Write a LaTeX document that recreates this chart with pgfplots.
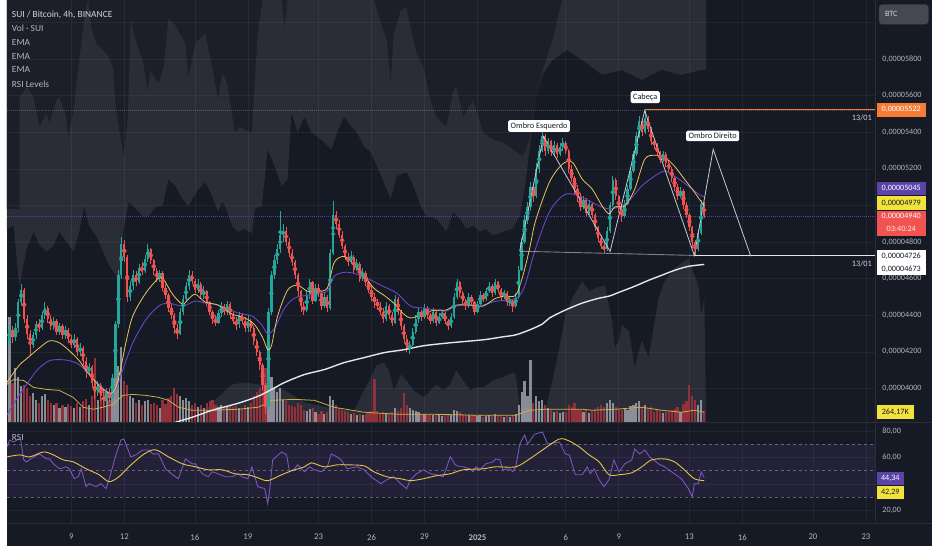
\documentclass[border=0pt]{standalone}
\usepackage{fontspec}
\setmainfont{Carlito}
\usepackage{pgfplots}
\usepackage{pgfplotstable}
\pgfplotsset{compat=1.18}
\definecolor{bg}{HTML}{161A25}
\definecolor{cA}{HTML}{1C1F2A}
\definecolor{cB}{HTML}{2A2D38}
\definecolor{upc}{HTML}{26A69A}
\definecolor{dnc}{HTML}{EF5350}
\definecolor{volup}{HTML}{9EA1A8}
\definecolor{voldn}{HTML}{93313A}
\definecolor{emay}{HTML}{E9C85A}
\definecolor{emap}{HTML}{6B45C8}
\definecolor{emaw}{HTML}{E6E6E6}
\definecolor{volma}{HTML}{C9AE4A}
\definecolor{rsip}{HTML}{7E57C2}
\definecolor{rsiy}{HTML}{E6C34B}
\definecolor{lbl}{HTML}{B2B5BE}
\definecolor{ttl}{HTML}{D1D4DC}
\definecolor{sep}{HTML}{2A2E39}
\definecolor{orng}{HTML}{F57C35}
\definecolor{pbox}{HTML}{5B43A8}
\definecolor{ybox}{HTML}{F2E33C}
\definecolor{rbox}{HTML}{F05350}
\definecolor{patt}{HTML}{C8CBD2}

\pgfplotstableread{
o h l c v
4260 4350 4240 4320 2800
4320 4340 4250 4280 1050
4280 4360 4260 4330 1450
4330 4490 4310 4470 1200
4470 4570 4450 4540 950
4540 4550 4360 4380 1000
4380 4400 4270 4300 900
4300 4320 4180 4240 700
4240 4310 4220 4290 780
4290 4370 4270 4350 600
4350 4380 4310 4330 520
4330 4420 4320 4400 700
4400 4470 4380 4440 760
4440 4450 4360 4380 600
4380 4400 4320 4340 520
4340 4390 4320 4370 450
4370 4380 4290 4310 500
4310 4360 4290 4340 380
4340 4350 4270 4290 450
4290 4340 4270 4320 400
4320 4330 4250 4270 480
4270 4290 4220 4240 420
4240 4300 4220 4270 380
4270 4280 4180 4200 520
4200 4250 4180 4220 400
4220 4230 4130 4150 560
4150 4170 4060 4090 620
4090 4140 4070 4120 450
4120 4130 4000 4030 700
4030 4050 3940 3980 1700
3980 4040 3960 4020 600
4020 4030 3930 3960 650
3960 3990 3900 3930 800
3930 4000 3910 3980 550
3980 4000 3920 3950 600
3950 4080 3940 4060 900
4060 4370 4050 4350 1300
4350 4650 4330 4620 1500
4620 4830 4600 4790 2000
4790 4810 4690 4720 1100
4720 4730 4470 4500 1000
4500 4590 4480 4560 700
4560 4650 4540 4620 650
4620 4640 4560 4580 500
4580 4680 4570 4660 600
4660 4690 4620 4640 450
4640 4730 4630 4710 550
4710 4790 4690 4760 600
4760 4770 4680 4700 480
4700 4710 4620 4640 520
4640 4660 4580 4600 450
4600 4650 4580 4630 380
4630 4640 4530 4550 600
4550 4570 4490 4510 480
4510 4520 4420 4440 650
4440 4460 4380 4400 700
4400 4410 4300 4330 900
4330 4350 4270 4300 750
4300 4440 4290 4420 700
4420 4510 4400 4490 600
4490 4580 4470 4560 650
4560 4650 4540 4620 550
4620 4640 4570 4590 450
4590 4600 4520 4540 500
4540 4600 4520 4570 400
4570 4580 4490 4510 450
4510 4560 4490 4530 380
4530 4540 4450 4470 500
4470 4480 4400 4420 550
4420 4430 4350 4380 600
4380 4400 4340 4360 450
4360 4430 4350 4410 400
4410 4470 4390 4450 450
4450 4460 4400 4420 380
4420 4480 4400 4460 420
4460 4470 4380 4400 450
4400 4420 4350 4370 400
4370 4390 4320 4350 420
4350 4420 4330 4400 380
4400 4410 4350 4370 350
4370 4390 4310 4330 450
4330 4400 4310 4370 400
4370 4380 4310 4330 500
4330 4340 4240 4260 700
4260 4270 4180 4200 800
4200 4210 4100 4130 900
4130 4140 3990 4020 1300
4020 4030 3860 3900 1450
3900 4440 3890 4420 1600
4420 4640 4400 4620 1200
4620 4730 4600 4700 900
4700 4790 4680 4760 800
4760 4970 4740 4840 900
4840 4900 4800 4860 600
4860 4880 4780 4800 550
4800 4820 4720 4740 450
4740 4760 4670 4690 420
4690 4700 4600 4620 400
4620 4630 4500 4530 500
4530 4540 4420 4450 450
4450 4470 4400 4430 330
4430 4530 4420 4510 300
4510 4600 4490 4580 350
4580 4590 4460 4480 380
4480 4570 4470 4550 260
4550 4570 4500 4520 220
4520 4530 4430 4450 300
4450 4520 4440 4500 220
4500 4510 4420 4440 260
4440 4760 4430 4740 700
4740 5025 4730 4950 600
4950 4970 4870 4900 450
4900 4920 4820 4840 380
4840 4860 4760 4780 330
4780 4790 4700 4720 300
4720 4740 4670 4690 280
4690 4750 4680 4720 220
4720 4730 4630 4650 250
4650 4710 4640 4680 200
4680 4690 4580 4600 230
4600 4660 4590 4630 200
4630 4640 4560 4580 220
4580 4590 4520 4540 250
4540 4560 4480 4500 300
4500 4520 4440 4470 1150
4470 4490 4430 4450 300
4450 4470 4400 4420 250
4420 4440 4360 4380 280
4380 4470 4370 4450 220
4450 4460 4380 4400 240
4400 4420 4340 4360 260
4360 4510 4350 4490 380
4490 4500 4400 4420 300
4420 4430 4320 4340 380
4340 4350 4250 4270 780
4270 4290 4200 4220 450
4220 4260 4190 4240 380
4240 4330 4230 4310 330
4310 4400 4300 4380 300
4380 4440 4360 4420 260
4420 4430 4370 4390 220
4390 4460 4380 4440 220
4440 4450 4380 4400 200
4400 4410 4350 4370 220
4370 4440 4360 4420 180
4420 4430 4340 4360 220
4360 4410 4350 4390 180
4390 4430 4380 4410 160
4410 4420 4350 4370 190
4370 4380 4320 4340 220
4340 4410 4330 4390 200
4390 4520 4380 4500 330
4500 4600 4490 4580 300
4580 4590 4500 4520 260
4520 4530 4460 4480 220
4480 4490 4430 4450 200
4450 4520 4440 4500 180
4500 4510 4450 4470 170
4470 4480 4400 4420 190
4420 4480 4410 4460 160
4460 4530 4450 4510 180
4510 4520 4470 4490 150
4490 4550 4480 4530 170
4530 4580 4520 4560 190
4560 4570 4500 4520 160
4520 4600 4510 4580 220
4580 4590 4520 4540 180
4540 4550 4480 4500 170
4500 4540 4490 4520 150
4520 4530 4450 4470 170
4470 4500 4450 4480 150
4480 4490 4420 4450 180
4450 4520 4440 4500 220
4500 4670 4490 4650 450
4650 4820 4640 4800 800
4800 4950 4790 4920 1100
4920 5020 4900 4990 700
4990 5130 4970 5100 1650
5100 5120 5020 5050 500
5050 5230 5040 5200 700
5200 5330 5180 5300 550
5300 5420 5290 5380 600
5380 5390 5270 5300 450
5300 5370 5280 5350 380
5350 5360 5270 5290 330
5290 5350 5270 5330 280
5330 5340 5260 5280 300
5280 5340 5270 5320 240
5320 5370 5300 5340 260
5340 5350 5280 5300 280
5300 5310 5180 5200 450
5200 5220 5130 5150 400
5150 5160 5060 5090 500
5090 5110 5020 5050 360
5050 5070 4970 4990 330
4990 5050 4980 5030 280
5030 5040 4940 4960 330
4960 5030 4950 5010 240
5010 5020 4930 4950 300
4950 4960 4860 4880 360
4880 4890 4800 4820 400
4820 4840 4760 4780 450
4780 4800 4740 4760 400
4760 4880 4750 4860 500
4860 5020 4850 5000 580
5000 5160 4990 5140 520
5140 5150 5030 5050 400
5050 5060 4960 4980 360
4980 5000 4910 4940 330
4940 5030 4930 5010 360
5010 5110 5000 5090 330
5090 5210 5080 5190 420
5190 5300 5180 5280 450
5280 5400 5270 5380 500
5380 5490 5370 5460 550
5460 5470 5380 5400 400
5400 5522 5390 5480 450
5480 5490 5400 5420 360
5420 5430 5330 5350 400
5350 5370 5310 5330 280
5330 5340 5270 5290 320
5290 5300 5230 5250 300
5250 5300 5240 5280 240
5280 5290 5210 5230 280
5230 5250 5180 5200 300
5200 5210 5130 5150 330
5150 5160 5080 5100 360
5100 5120 5030 5050 400
5050 5100 5040 5080 280
5080 5090 4980 5000 480
5000 5020 4930 4950 550
4950 4960 4860 4880 1000
4880 4890 4770 4800 700
4800 4810 4726 4760 600
4760 4870 4750 4850 450
4850 5030 4840 5010 600
5010 5020 4930 4940 300
}\candles

\pgfplotstableread{
px py
0 -2
0 230
7 227
12 283
13 287
20 250
27 233
33 247
40 253
47 247
53 233
60 243
67 253
73 233
78 207
83 227
90 237
97 253
103 267
110 277
115 280
117 233
123 203
130 210
137 217
143 217
150 208
157 207
163 180
170 187
177 200
183 207
193 190
200 183
207 197
213 213
217 203
220 207
227 227
233 233
240 230
247 235
250 210
257 207
263 150
270 167
277 187
283 180
287 113
293 133
300 117
307 133
313 137
320 143
327 150
333 133
340 117
347 127
353 133
360 147
367 153
373 167
380 183
387 200
393 177
403 173
410 187
417 207
423 217
433 220
443 233
450 213
457 220
463 230
470 227
477 233
483 230
490 237
500 233
510 230
517 217
522 190
527 150
533 100
540 75
550 60
565 50
580 60
600 75
620 70
640 80
660 70
680 75
700 70
705 70
705 -2
}\bandL

\pgfplotstableread{
px py
0 -2
0 210
13 210
13 97
20 87
27 97
33 127
40 113
43 123
50 100
53 97
60 117
62 137
67 113
73 60
78 20
82 -2
85 27
90 43
97 50
103 57
107 67
110 110
115 140
118 157
122 117
125 17
128 33
132 47
137 60
142 90
145 70
148 77
153 83
158 67
163 18
170 25
180 43
183 77
190 43
200 33
207 67
213 100
217 73
222 83
230 133
235 127
240 130
247 133
250 80
253 33
258 -2
277 -2
280 27
283 -2
370 -2
373 10
383 40
387 83
390 33
397 10
403 7
407 27
413 53
420 67
427 100
433 117
443 127
450 90
453 87
460 117
470 100
480 133
490 140
500 143
510 150
520 157
527 140
533 100
540 70
550 40
560 -2
705 -2
}\bandU

\pgfplotstableread{
px py
0 427
190 427
200 413
213 400
227 387
240 385
253 387
267 388
280 393
300 405
330 412
350 413
360 393
367 380
373 367
380 365
385 373
390 393
393 387
397 377
403 383
410 393
420 400
427 393
433 387
440 393
447 387
453 373
460 383
467 393
473 390
480 390
490 383
500 380
510 375
513 377
517 410
543 413
550 383
557 350
563 317
570 300
580 283
587 293
593 290
603 287
610 323
613 350
617 343
620 327
627 333
633 370
640 343
647 360
657 300
663 283
673 270
687 260
693 277
697 287
700 317
703 300
705 427
}\bandB

\pgfplotstableread{
px py
0 385
7 375
13 367
20 361
33 350
43 343
53 345
63 353
73 363
80 373
90 385
97 392
105 396
110 390
115 370
120 345
127 318
140 295
153 280
158 281
167 296
177 306
183 301
190 296
200 304
213 307
227 316
240 320
250 327
258 340
263 352
267 347
273 318
283 292
293 287
303 293
313 293
323 290
330 264
340 258
350 266
360 277
370 290
380 297
390 305
400 316
407 320
417 317
427 313
437 312
443 312
453 307
467 307
480 308
493 300
503 298
513 297
520 278
527 250
533 222
547 183
560 165
570 163
580 180
590 190
600 207
607 215
613 208
623 207
633 190
643 160
653 156
663 158
673 167
683 180
693 193
700 203
703 207
}\emaY

\pgfplotstableread{
px py
0 418
3 413
13 397
27 377
33 370
43 363
53 362
63 363
73 367
83 377
93 387
103 395
110 392
117 372
127 345
140 322
153 308
163 305
177 308
190 303
200 305
213 307
233 315
247 318
257 327
263 336
270 330
280 310
290 300
303 297
313 295
323 293
330 278
340 274
350 275
363 280
377 287
393 295
407 308
420 310
433 312
443 313
453 308
467 307
480 307
493 303
507 302
517 297
523 285
533 250
547 213
560 197
570 195
583 200
597 207
607 210
617 208
627 202
640 187
653 177
663 172
673 177
687 187
697 195
703 198
}\emaP

\pgfplotstableread{
px py
150 430
160 428
187 420
207 413
233 406
253 399
267 392
280 385
300 377
320 372
340 365
360 360
380 355
400 352
420 348
447 345
480 342
500 339
513 337
527 332
540 326
547 320
563 312
580 305
597 300
607 298
620 293
633 288
647 282
660 277
673 272
687 268
703 266
}\emaW

\pgfplotstableread{
px py
0 387
7 382
17 383
27 390
40 392
53 393
67 400
77 410
87 412
97 410
107 407
117 398
127 397
140 398
153 400
163 403
173 410
187 413
207 413
233 412
253 410
263 406
267 403
290 402
310 403
330 410
360 415
393 417
427 417
473 418
513 418
527 413
543 412
580 412
590 413
613 412
640 410
660 413
680 415
693 413
703 415
}\volMA

\pgfplotstableread{
px py
0 450
3 443
7 445
12 442
14 443
17 463
20 465
27 460
33 457
40 462
43 462
47 467
53 472
60 470
63 472
68 482
72 480
75 472
80 490
83 487
90 490
95 487
100 492
103 483
110 458
115 443
118 442
125 460
130 458
137 453
143 453
147 457
153 457
160 472
167 478
173 482
180 462
187 467
190 467
197 477
203 480
207 475
213 477
220 480
227 480
233 477
237 480
243 482
247 470
250 480
253 490
260 492
263 507
265 493
268 463
277 455
282 458
285 475
290 472
293 468
300 475
305 470
310 473
317 475
323 470
327 457
333 460
337 463
343 472
353 470
360 473
367 480
377 487
383 483
390 480
397 487
403 492
407 483
413 477
420 473
427 477
433 478
440 480
447 460
452 468
457 470
460 470
467 472
470 475
473 470
477 473
483 467
490 465
493 462
497 463
500 473
507 472
510 475
513 470
517 447
522 438
525 447
532 437
540 435
545 447
557 445
563 457
567 458
573 478
580 478
585 470
588 477
592 472
597 483
602 490
607 483
612 463
617 475
623 467
630 463
633 452
638 457
643 453
648 460
657 467
663 470
670 475
680 482
687 492
691 500
693 487
697 487
700 475
703 481
}\rsiP

\pgfplotstableread{
px py
0 460
13 458
23 460
37 455
47 458
57 463
67 465
80 472
93 478
103 485
113 480
123 470
137 458
147 453
153 454
163 460
177 467
190 470
203 473
217 473
230 477
243 478
253 481
263 484
277 478
287 474
300 470
307 466
320 470
333 468
343 468
360 469
370 475
383 480
397 482
407 484
420 482
433 479
447 477
460 473
480 472
493 470
513 470
527 462
540 453
557 442
567 444
577 450
587 458
597 465
607 478
617 478
630 476
640 470
650 463
663 462
673 465
683 473
693 482
703 484
}\rsiY

\pgfplotsset{
  chartbase/.style={scale only axis, width=875pt, height=425pt,
    at={(0pt,125pt)}, anchor=south west,
    xmin=-3.652, xmax=45.51,
    axis line style={draw=none}, tick style={draw=none}},
}

\begin{document}
\begin{tikzpicture}[x=1pt,y=1pt]
\fill[bg] (0,0) rectangle (932,550);

\begin{axis}[chartbase, ymin=3816, ymax=6120,
  xtick={0,3,7,10,14,17,20,23,28,31,35,38,42,45},
  ytick={4000,4200,...,6000},
  xticklabels={}, yticklabels={},
  grid=major, major grid style={draw=white, opacity=0.05, line width=0.6pt},
  axis on top]
\addplot[fill=cB, draw=none] table[x expr=(\thisrowno{0}-65)/17.8, y expr=6120-5.4212*\thisrowno{1}] {\bandL};
\addplot[fill=cA, draw=none] table[x expr=(\thisrowno{0}-65)/17.8, y expr=6120-5.4212*\thisrowno{1}] {\bandU};
\addplot[fill=cB, draw=none] table[x expr=(\thisrowno{0}-65)/17.8, y expr=6120-5.4212*\thisrowno{1}] {\bandB};
\addplot[draw=white, opacity=0.22, line width=0.5pt, dash pattern=on 1pt off 1pt] coordinates {(-3.652,5522) (45.51,5522)};
\addplot[draw=emap, opacity=0.75, line width=0.6pt, dash pattern=on 1pt off 1pt] coordinates {(-3.652,4940) (45.51,4940)};
\end{axis}

\begin{axis}[chartbase, ymin=0, ymax=11220, xtick=\empty, ytick=\empty]
\addplot[ycomb, draw=volup, opacity=0.85, line width=2.2pt, restrict y to domain=0:20000]
  table[x expr=\coordindex/6-3.5, y expr={(\thisrow{c}>=\thisrow{o}) ? \thisrow{v} : -5}] {\candles};
\addplot[ycomb, draw=voldn, line width=2.2pt, restrict y to domain=0:20000]
  table[x expr=\coordindex/6-3.5, y expr={(\thisrow{c}<\thisrow{o}) ? \thisrow{v} : -5}] {\candles};
\addplot[draw=volma, line width=0.8pt] table[x expr=(\thisrowno{0}-65)/17.8, y expr=(425-\thisrowno{1})*26.4] {\volMA};
\end{axis}

\begin{axis}[chartbase, ymin=3816, ymax=6120, xtick=\empty,
  ytick={4000,4200,4400,4600,4800,5200,5400,5600,5800},
  yticklabels={{0,00004000},{0,00004200},{0,00004400},{0,00004600},{0,00004800},{0,00005200},{0,00005400},{0,00005600},{0,00005800}},
  yticklabel pos=right,
  yticklabel style={font=\fontsize{8.2}{9}\selectfont, text=lbl, anchor=west, xshift=4pt}]
\addplot[upc, only marks, mark=none, restrict y to domain=3000:7000,
  error bars/.cd, y dir=both, y explicit, error mark=none, error bar style={line width=0.7pt, draw=upc}]
  table[x expr=\coordindex/6-3.5, y expr={(\thisrow{c}>=\thisrow{o}) ? (\thisrow{h}+\thisrow{l})/2 : 9999}, y error expr=(\thisrow{h}-\thisrow{l})/2] {\candles};
\addplot[dnc, only marks, mark=none, restrict y to domain=3000:7000,
  error bars/.cd, y dir=both, y explicit, error mark=none, error bar style={line width=0.7pt, draw=dnc}]
  table[x expr=\coordindex/6-3.5, y expr={(\thisrow{c}<\thisrow{o}) ? (\thisrow{h}+\thisrow{l})/2 : 9999}, y error expr=(\thisrow{h}-\thisrow{l})/2] {\candles};
\addplot[upc, only marks, mark=none, restrict y to domain=3000:7000,
  error bars/.cd, y dir=both, y explicit, error mark=none, error bar style={line width=2.3pt, draw=upc}]
  table[x expr=\coordindex/6-3.5, y expr={(\thisrow{c}>=\thisrow{o}) ? (\thisrow{o}+\thisrow{c})/2 : 9999}, y error expr=abs(\thisrow{c}-\thisrow{o})/2] {\candles};
\addplot[dnc, only marks, mark=none, restrict y to domain=3000:7000,
  error bars/.cd, y dir=both, y explicit, error mark=none, error bar style={line width=2.3pt, draw=dnc}]
  table[x expr=\coordindex/6-3.5, y expr={(\thisrow{c}<\thisrow{o}) ? (\thisrow{o}+\thisrow{c})/2 : 9999}, y error expr=abs(\thisrow{c}-\thisrow{o})/2] {\candles};
\addplot[draw=emaw, line width=1.4pt, smooth] table[x expr=(\thisrowno{0}-65)/17.8, y expr=6120-5.4212*\thisrowno{1}] {\emaW};
\addplot[draw=emap, line width=0.9pt, smooth] table[x expr=(\thisrowno{0}-65)/17.8, y expr=6120-5.4212*\thisrowno{1}] {\emaP};
\addplot[draw=emay, line width=0.8pt, smooth] table[x expr=(\thisrowno{0}-65)/17.8, y expr=6120-5.4212*\thisrowno{1}] {\emaY};
\addplot[draw=white, opacity=0.45, line width=0.9pt] coordinates {(25.39,4750) (35.28,4727)};
\addplot[draw=emaw, line width=1.0pt] coordinates {(35.28,4726) (45.51,4726)};
\addplot[draw=orng, line width=0.9pt] coordinates {(32.47,5522) (45.51,5522)};
\addplot[draw=patt, line width=0.8pt] coordinates {(25.39,4750) (26.74,5377) (30.51,4749) (32.47,5518) (35.28,4727) (36.35,5307) (38.48,4722)};
\node[fill=white, rounded corners=1.5pt, text=bg, font=\fontsize{8.3}{9}\selectfont, inner xsep=2.5pt, inner ysep=2.4pt] at (axis cs:26.49,5434) {Ombro Esquerdo};
\node[fill=white, rounded corners=1.5pt, text=bg, font=\fontsize{8.3}{9}\selectfont, inner xsep=2.5pt, inner ysep=2.4pt] at (axis cs:32.5,5592) {Cabeça};
\node[fill=white, rounded corners=1.5pt, text=bg, font=\fontsize{8.3}{9}\selectfont, inner xsep=2.5pt, inner ysep=2.4pt] at (axis cs:36.32,5380) {Ombro Direito};
\end{axis}

\begin{axis}[scale only axis, width=875pt, height=101pt, at={(0pt,23pt)}, anchor=south west,
  xmin=-3.652, xmax=45.51, ymin=10.3, ymax=85.96,
  axis line style={draw=none}, tick style={draw=none},
  xtick={0,3,7,10,14,17,20,23,28,31,35,38,42,45},
  xticklabels={9,12,16,19,23,26,29,\textbf{2025},6,9,13,16,20,23},
  xticklabel style={font=\fontsize{8.8}{10}\selectfont, text=lbl, yshift=-7.5pt},
  ytick={20,40,60,80},
  yticklabels={{20,00},{},{60,00},{80,00}},
  yticklabel pos=right,
  yticklabel style={font=\fontsize{8.2}{9}\selectfont, text=lbl, anchor=west, xshift=4pt},
  grid=major, major grid style={draw=white, opacity=0.05, line width=0.6pt},
  axis on top]
\addplot[fill=rsip, fill opacity=0.12, draw=none] coordinates {(-3.652,30) (45.51,30) (45.51,70) (-3.652,70)};
\addplot[draw=white, opacity=0.3, line width=0.6pt, dash pattern=on 3pt off 3pt] coordinates {(-3.652,70) (45.51,70)};
\addplot[draw=white, opacity=0.3, line width=0.6pt, dash pattern=on 3pt off 3pt] coordinates {(-3.652,50) (45.51,50)};
\addplot[draw=white, opacity=0.3, line width=0.6pt, dash pattern=on 3pt off 3pt] coordinates {(-3.652,30) (45.51,30)};
\addplot[draw=rsip, line width=0.85pt] table[x expr=(\thisrowno{0}-65)/17.8, y expr=50-(\thisrowno{1}-474)/1.335] {\rsiP};
\addplot[draw=rsiy, line width=0.9pt, smooth] table[x expr=(\thisrowno{0}-65)/17.8, y expr=50-(\thisrowno{1}-474)/1.335] {\rsiY};
\end{axis}

\draw[sep, line width=1pt] (875.5,23) -- (875.5,550);
\draw[sep, line width=1pt] (0,124.5) -- (932,124.5);
\draw[sep, line width=1pt] (0,23) -- (932,23);

\begin{scope}[every node/.style={anchor=west, inner sep=0pt, font=\fontsize{9.5}{11}\selectfont, text=lbl}]
\node[text=ttl] at (5,536) {SUI / Bitcoin, 4h, BINANCE};
\node at (5,522) {Vol · SUI};
\node at (5,508) {EMA};
\node at (5,494) {EMA};
\node at (5,480) {EMA};
\node at (5,466) {RSI Levels};
\node at (5,110) {RSI};
\end{scope}

\node[anchor=east, inner sep=0pt, text=ttl, font=\fontsize{8.3}{9}\selectfont] at (872,432) {13/01};
\node[anchor=east, inner sep=0pt, text=ttl, font=\fontsize{8.3}{9}\selectfont] at (872,285) {13/01};

\begin{scope}[every node/.style={inner sep=0pt, font=\fontsize{8.2}{9}\selectfont}]
\draw[sep, fill=bg!80!white, rounded corners=3pt] (879,526) rectangle (929,546);
\node[anchor=west, text=ttl] at (885,536) {BTC};
\fill[orng] (877,433) rectangle (926,447);
\node[text=white] at (901.5,440) {0,00005522};
\fill[pbox] (877,354) rectangle (926,367);
\node[text=white] at (901.5,360.5) {0,00005045};
\fill[ybox] (877,339) rectangle (926,353);
\node[text=bg] at (901.5,346) {0,00004979};
\fill[rbox] (877,313) rectangle (926,338);
\node[text=white] at (901.5,332) {0,00004940};
\node[text=white!85!orange] at (901.5,319.5) {03:40:24};
\fill[white] (877,273) rectangle (926,299);
\node[text=bg] at (901.5,292) {0,00004726};
\node[text=bg] at (901.5,279.5) {0,00004673};
\fill[ybox] (877,128) rectangle (914,142);
\node[text=bg] at (895.5,135) {264,17K};
\fill[pbox] (877,62) rectangle (904,75);
\node[text=white] at (890.5,68.5) {44,34};
\fill[ybox] (877,48) rectangle (904,61);
\node[text=bg] at (890.5,54.5) {42,29};
\end{scope}
\end{tikzpicture}
\end{document}
